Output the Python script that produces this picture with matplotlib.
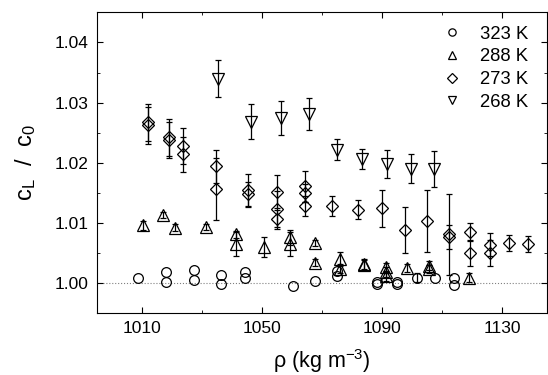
import numpy as np
import matplotlib.pyplot as plt
from matplotlib.ticker import MultipleLocator, FormatStrFormatter

plt.rcParams['font.family'] = ['Liberation Sans', 'DejaVu Sans']
plt.rcParams['mathtext.fontset'] = 'custom'
plt.rcParams['mathtext.rm'] = 'Liberation Sans'
plt.rcParams['mathtext.it'] = 'Liberation Sans'

# 323 K (circles)
x323 = [1008.6, 1018.1, 1018.1, 1027.3, 1027.3, 1036.2, 1036.2, 1044.5, 1044.5, 1060.4, 1067.8,
        1075.0, 1075.0, 1088.5, 1088.5, 1095.1, 1095.1, 1101.8, 1107.8, 1113.9, 1113.9]
y323 = [1.0008, 1.0018, 1.0002, 1.0021, 1.0005, 1.0014, 0.9998, 1.0019, 1.0009, 0.99945, 1.0004,
        1.0020, 1.0011, 1.0002, 0.9998, 1.0002, 0.9998, 1.0009, 1.0009, 1.0009, 0.9997]
e323 = [0, 0, 0, 0, 0, 0, 0, 0, 0, 0, 0,
        0, 0, 0, 0, 0, 0, 0.0007, 0, 0, 0]

# 288 K (triangles)
x288 = [1010.3, 1016.9, 1021.1, 1031.2, 1041.2, 1041.2, 1050.6, 1059.3, 1059.3, 1067.8, 1067.8,
        1075.9, 1075.9, 1083.9, 1083.9, 1091.3, 1091.3, 1091.3, 1098.5, 1105.7, 1105.7, 1118.9]
y288 = [1.0096, 1.0113, 1.0092, 1.0093, 1.0081, 1.0065, 1.0060, 1.0076, 1.0065, 1.0066, 1.0034,
        1.0040, 1.0024, 1.0032, 1.0030, 1.0026, 1.0018, 1.0012, 1.0025, 1.0029, 1.0023, 1.0009]
e288 = [0.0007, 0.0005, 0.0006, 0.0005, 0.0006, 0.0020, 0.0017, 0.0012, 0.0020, 0.0005, 0.0006,
        0.0012, 0.0008, 0.0008, 0.0008, 0.0008, 0.0008, 0.0008, 0.0007, 0.0007, 0.0007, 0.0008]

# 273 K (diamonds)
x273 = [1012.0, 1012.0, 1019.1, 1019.1, 1023.7, 1023.7, 1034.7, 1034.7, 1045.4, 1045.4,
        1055.1, 1055.1, 1055.1, 1064.4, 1064.4, 1064.4, 1073.3, 1081.9, 1089.9, 1097.6,
        1105.1, 1112.3, 1112.3, 1119.3, 1119.3, 1125.9, 1125.9, 1132.5, 1138.6]
y273 = [1.0267, 1.0262, 1.0242, 1.0238, 1.0228, 1.0214, 1.0194, 1.0156, 1.0154, 1.0148,
        1.0152, 1.0123, 1.0106, 1.0161, 1.0150, 1.0128, 1.0128, 1.0122, 1.0124, 1.0088,
        1.0103, 1.0081, 1.0076, 1.0085, 1.0050, 1.0064, 1.0050, 1.0067, 1.0065]
e273 = [0.0031, 0.0030, 0.0030, 0.0030, 0.0030, 0.0029, 0.0028, 0.0052, 0.0028, 0.0020,
        0.0027, 0.0030, 0.0016, 0.0026, 0.0015, 0.0016, 0.0017, 0.0016, 0.0031, 0.0038,
        0.0052, 0.0067, 0.0020, 0.0015, 0.0021, 0.0019, 0.0021, 0.0013, 0.0013]

# 268 K (inverted triangles)
x268 = [1035.4, 1046.2, 1056.2, 1065.8, 1075.0, 1083.5, 1091.8, 1099.8, 1107.3]
y268 = [1.0340, 1.0268, 1.0274, 1.0281, 1.0222, 1.0206, 1.0198, 1.0190, 1.0190]
e268 = [0.0030, 0.0029, 0.0028, 0.0027, 0.0018, 0.0017, 0.0024, 0.0024, 0.0030]

labels = ['323 K', '288 K', '273 K', '268 K']
series = [
    (x323, y323, e323, 'o', 7),
    (x288, y288, e288, '^', 8),
    (x273, y273, e273, 'D', 6.3),
    (x268, y268, e268, 'v', 8.5),
]

fig = plt.figure(figsize=(5.48, 3.75), dpi=100)
ax = fig.add_axes([0.177, 0.165, 0.821, 0.802])

ax.axhline(1.0, color='gray', lw=0.8, ls=':', zorder=1)

handles = []
for x, y, e, m, ms in series:
    x, y, e = np.array(x), np.array(y), np.array(e)
    has_err = e > 0
    ax.errorbar(x[has_err], y[has_err], yerr=e[has_err], fmt='none',
                ecolor='black', elinewidth=0.9, capsize=2, capthick=0.9)
    line, = ax.plot(x, y, m, ms=ms, mfc='none', mec='black', mew=0.9)
    handles.append(line)

ax.set_xlim(995, 1145)
ax.set_ylim(0.995, 1.045)
ax.set_xticks([1010, 1050, 1090, 1130])
ax.xaxis.set_minor_locator(MultipleLocator(20, offset=10))
ax.yaxis.set_major_locator(MultipleLocator(0.01))
ax.yaxis.set_minor_locator(MultipleLocator(0.005))
ax.yaxis.set_major_formatter(FormatStrFormatter('%.2f'))
ax.tick_params(which='both', direction='in', top=True, right=True, labelsize=12.5, pad=6)
ax.tick_params(which='major', length=4)
ax.tick_params(which='minor', length=2.5)

ax.set_xlabel(r'$\mathregular{\rho}$ (kg m$^{\mathregular{-3}}$)', fontsize=15.5, labelpad=8)
ax.set_ylabel(r'c$_\mathregular{L}$  /  c$_\mathregular{0}$', fontsize=17, labelpad=12)

ax.legend(handles, labels, loc='upper right', frameon=False, fontsize=13.3,
          markerscale=0.75, handlelength=1.0, handletextpad=1.0, labelspacing=0.3,
          bbox_to_anchor=(0.987, 0.998), borderaxespad=0.3)

fig.savefig('out.png', dpi=100)
